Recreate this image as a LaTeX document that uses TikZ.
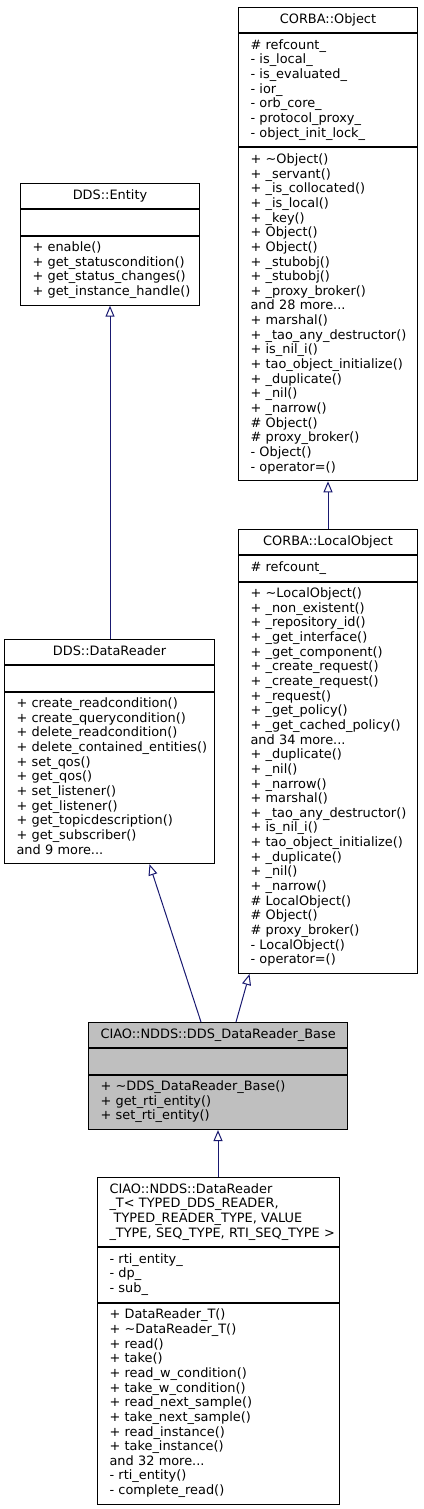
\documentclass[tikz,border=0pt]{standalone}
\usepackage{fontspec}
\setmainfont{DejaVu Sans}
\usetikzlibrary{arrows.meta,positioning}
\definecolor{edgeblue}{RGB}{25,25,112}
\definecolor{basegray}{RGB}{191,191,191}
\tikzset{
    umlbox/.style={draw, line width=1pt, fill=white, inner xsep=12pt, inner ysep=5.3pt,
        font=\fontsize{12.9}{14.65}\selectfont, execute at end node={\strut}},
    umltitle/.style={umlbox, align=center, execute at begin node={\strut}},
    umlpart/.style={umlbox, align=left,
        execute at begin node={\rightskip=0pt plus 1fil minus 30pt\strut}},
    umlbase/.style={fill=basegray},
    inherit/.style={{Triangle[open, length=11pt, width=9pt]}-, draw=edgeblue, line width=1pt}
}

\begin{document}
\begin{tikzpicture}[x=1pt, y=-1pt]
    \useasboundingbox (0,0) rectangle (423,1509);

    % CORBA::Object
    \node[umltitle, text width=155pt, anchor=north west] (obj) at (238,7) {CORBA::Object};
    \node[umlpart, text width=155pt, below=0pt of obj] (obja) {\# refcount\_\\- is\_local\_\\- is\_evaluated\_\\- ior\_\\- orb\_core\_\\- protocol\_proxy\_\\- object\_init\_lock\_};
    \node[umlpart, text width=155pt, below=0pt of obja] (objm) {+ \textasciitilde Object()\\+ \_servant()\\+ \_is\_collocated()\\+ \_is\_local()\\+ \_key()\\+ Object()\\+ Object()\\+ \_stubobj()\\+ \_stubobj()\\+ \_proxy\_broker()\\and 28 more...\\+ marshal()\\+ \_tao\_any\_destructor()\\+ is\_nil\_i()\\+ tao\_object\_initialize()\\+ \_duplicate()\\+ \_nil()\\+ \_narrow()\\\# Object()\\\# proxy\_broker()\\- Object()\\- operator=()};

    % DDS::Entity
    \node[umltitle, text width=155pt, anchor=north west] (ent) at (20,183) {DDS::Entity};
    \node[umlpart, text width=155pt, below=0pt of ent] (ente) {};
    \node[umlpart, text width=155pt, below=0pt of ente] (entm) {+ enable()\\+ get\_statuscondition()\\+ get\_status\_changes()\\+ get\_instance\_handle()};

    % CORBA::LocalObject
    \node[umltitle, text width=155pt, anchor=north west] (lobj) at (238,529) {CORBA::LocalObject};
    \node[umlpart, text width=155pt, below=0pt of lobj] (lobja) {\# refcount\_};
    \node[umlpart, text width=155pt, below=0pt of lobja] (lobjm) {+ \textasciitilde LocalObject()\\+ \_non\_existent()\\+ \_repository\_id()\\+ \_get\_interface()\\+ \_get\_component()\\+ \_create\_request()\\+ \_create\_request()\\+ \_request()\\+ \_get\_policy()\\+ \_get\_cached\_policy()\\and 34 more...\\+ \_duplicate()\\+ \_nil()\\+ \_narrow()\\+ marshal()\\+ \_tao\_any\_destructor()\\+ is\_nil\_i()\\+ tao\_object\_initialize()\\+ \_duplicate()\\+ \_nil()\\+ \_narrow()\\\# LocalObject()\\\# Object()\\\# proxy\_broker()\\- LocalObject()\\- operator=()};

    % DDS::DataReader
    \node[umltitle, text width=186pt, anchor=north west] (rd) at (4,639) {DDS::DataReader};
    \node[umlpart, text width=186pt, below=0pt of rd] (rde) {};
    \node[umlpart, text width=186pt, below=0pt of rde] (rdm) {+ create\_readcondition()\\+ create\_querycondition()\\+ delete\_readcondition()\\+ delete\_contained\_entities()\\+ set\_qos()\\+ get\_qos()\\+ set\_listener()\\+ get\_listener()\\+ get\_topicdescription()\\+ get\_subscriber()\\and 9 more...};

    % CIAO::NDDS::DDS_DataReader_Base
    \node[umltitle, umlbase, text width=235pt, anchor=north west] (base) at (88,1022) {CIAO::NDDS::DDS\_DataReader\_Base};
    \node[umlpart, umlbase, text width=235pt, below=0pt of base] (basee) {};
    \node[umlpart, umlbase, text width=235pt, below=0pt of basee] (basem) {+ \textasciitilde DDS\_DataReader\_Base()\\+ get\_rti\_entity()\\+ set\_rti\_entity()};

    % CIAO::NDDS::DataReader_T
    \node[umlpart, text width=218pt, anchor=north west] (drt) at (97,1177) {CIAO::NDDS::DataReader\\\_T< TYPED\_DDS\_READER,\\\hspace*{0.32em}TYPED\_READER\_TYPE, VALUE\\\_TYPE, SEQ\_TYPE, RTI\_SEQ\_TYPE >};
    \node[umlpart, text width=218pt, below=0pt of drt] (drta) {- rti\_entity\_\\- dp\_\\- sub\_};
    \node[umlpart, text width=218pt, below=0pt of drta] (drtm) {+ DataReader\_T()\\+ \textasciitilde DataReader\_T()\\+ read()\\+ take()\\+ read\_w\_condition()\\+ take\_w\_condition()\\+ read\_next\_sample()\\+ take\_next\_sample()\\+ read\_instance()\\+ take\_instance()\\and 32 more...\\- rti\_entity()\\- complete\_read()};

    \draw[inherit] (entm.south) -- (entm.south |- rd.north);
    \draw[inherit] (objm.south) -- (objm.south |- lobj.north);
    \draw[inherit] ([xshift=40pt]rdm.south) -- ([xshift=-17pt]base.north);
    \draw[inherit] ([xshift=-78.5pt]lobjm.south) -- ([xshift=18pt]base.north);
    \draw[inherit] (basem.south) -- (basem.south |- drt.north);
\end{tikzpicture}
\end{document}
